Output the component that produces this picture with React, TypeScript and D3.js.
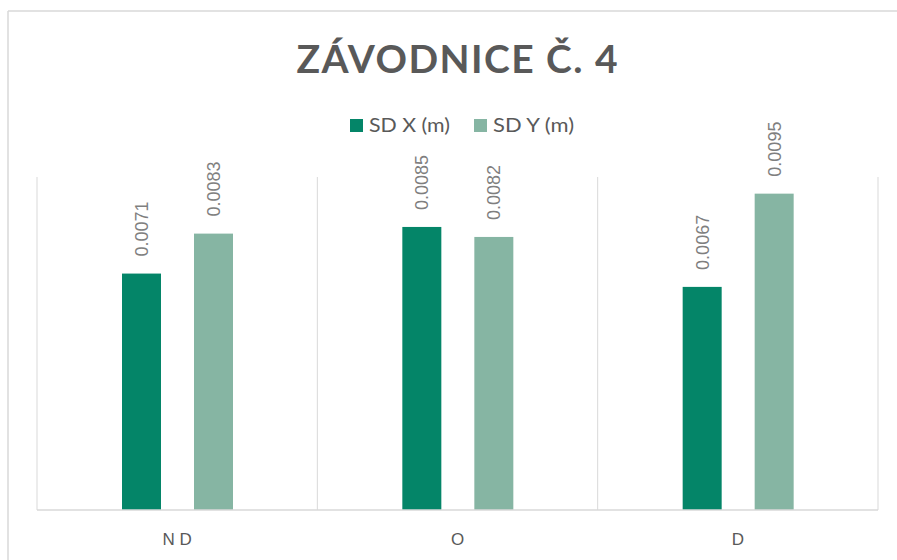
import React from "react";
import * as d3 from "d3";

const categories = ["N D", "O", "D"];
const seriesNames = ["SD X (m)", "SD Y (m)"];
const sdX = [0.0071, 0.0085, 0.0067];
const sdY = [0.0083, 0.0082, 0.0095];
const colors = ["#048568", "#86B5A3"];
const title = "ZÁVODNICE Č. 4";

export default function App() {
  const W = 897, H = 560;
  const left = 37, right = 878, top = 177, bottom = 510;
  const x = d3.scaleBand<string>().domain(categories).range([left, right]).padding(0);
  const y = d3.scaleLinear().domain([0, 0.01]).range([bottom, top]);
  const bw = x.bandwidth();
  const barW = 39;
  const offX = 85;
  const gap = 33;
  const series = [sdX, sdY];
  const grid = "#d9d9d9";
  return (
    <svg width={W} height={H} style={{ position: "fixed", left: 0, top: 0, background: "#fff" }}>
      <rect x={0} y={0} width={W} height={H} fill="#fff" />
      {/* chart border */}
      <line x1={8} x2={W} y1={11} y2={11} stroke={grid} strokeWidth={1.5} />
      <line x1={8} x2={8} y1={11} y2={H} stroke={grid} strokeWidth={1.5} />
      {/* title */}
      <text x={457} y={73} textAnchor="middle" fontFamily="Lato, 'Open Sans', sans-serif" fontWeight={700} fontSize={39} fill="#595959" textLength={321} lengthAdjust="spacing">{title}</text>
      {/* legend */}
      {seriesNames.map((s, i) => {
        const lx = [350, 474][i];
        return (
          <g key={s}>
            <rect x={lx} y={119} width={13} height={13} fill={colors[i]} />
            <text x={lx + 19} y={132} fontFamily="Lato, 'Open Sans', sans-serif" fontSize={19} fill="#595959" textLength={81} lengthAdjust="spacingAndGlyphs">{s}</text>
          </g>
        );
      })}
      {/* gridlines */}
      {[...categories.map((c) => x(c)!), right].map((gx, i) => (
        <line key={i} x1={gx} x2={gx} y1={top} y2={bottom} stroke={grid} strokeWidth={1} />
      ))}
      {/* bars */}
      {series.map((vals, si) =>
        vals.map((v, ci) => {
          const bx = x(categories[ci])! + offX + si * (barW + gap);
          const by = y(v);
          const cx = bx + barW / 2;
          return (
            <g key={`${si}-${ci}`}>
              <rect x={bx} y={by} width={barW} height={bottom - by} fill={colors[si]} />
              <text transform={`translate(${cx},${by - 17}) rotate(-90)`} dy="0.36em" fontFamily="'Liberation Sans', Arial, sans-serif" fontSize={18} fill="#7f7f7f">{v.toFixed(4)}</text>
            </g>
          );
        })
      )}
      {/* axis line */}
      <line x1={left} x2={right} y1={bottom} y2={bottom} stroke={grid} strokeWidth={1.5} />
      {/* category labels */}
      {categories.map((c) => (
        <text key={c} x={x(c)! + bw / 2} y={545} textAnchor="middle" fontFamily="'Liberation Sans Narrow', 'Liberation Sans', sans-serif" fontSize={17} fill="#595959">{c}</text>
      ))}
    </svg>
  );
}
